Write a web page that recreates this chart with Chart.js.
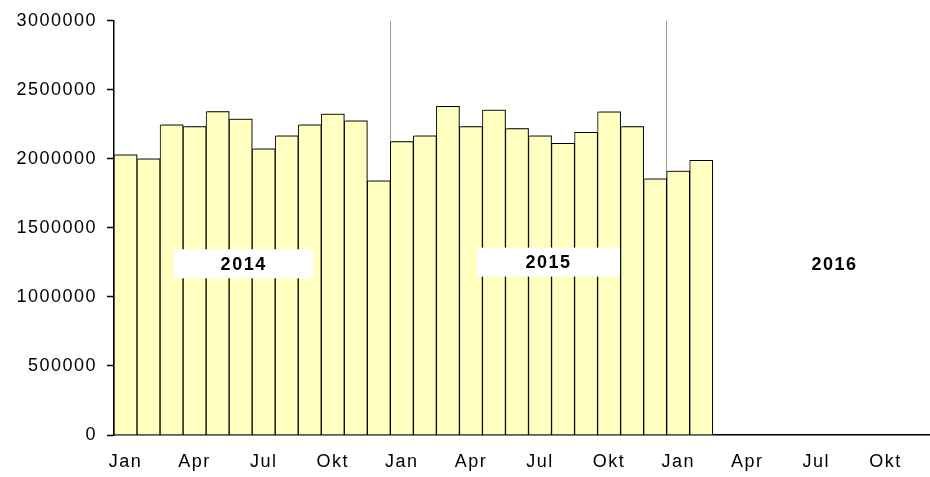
<!DOCTYPE html>
<html>
<head>
<meta charset="utf-8">
<script src="https://cdn.jsdelivr.net/npm/chart.js@4.4.1/dist/chart.umd.min.js"></script>
<style>
  html, body { margin: 0; padding: 0; background: #fff; overflow: hidden; }
  #wrap { width: 950px; height: 477px; }
</style>
</head>
<body>
<div id="wrap"><canvas id="chart"></canvas></div>
<script>
const monthNames = ['Jan', 'Feb', 'Mär', 'Apr', 'Mai', 'Jun', 'Jul', 'Aug', 'Sep', 'Okt', 'Nov', 'Dez'];
const years = ['2014', '2015', '2016'];
const shownMonths = ['Jan', 'Apr', 'Jul', 'Okt'];

const values2014 = [2030000, 2000000, 2246000, 2234000, 2342000, 2289000, 2072000, 2166000, 2246000, 2325000, 2275000, 1841000];
const values2015 = [2125000, 2166000, 2381000, 2234000, 2354000, 2219000, 2166000, 2113000, 2193000, 2340000, 2234000, 1856000];
const values2016 = [1911000, 1990000];

const yTicks = [0, 500000, 1000000, 1500000, 2000000, 2500000, 3000000];

// labels: one per month, three years
const labels = [];
years.forEach((y) => monthNames.forEach((m) => labels.push(m + ' ' + y)));

const values = labels.map((_, i) => {
  const all = values2014.concat(values2015, values2016);
  return i < all.length ? all[i] : null;
});

const FONT = 'Liberation Sans, Arial, sans-serif';

// wider glyph spacing, the original text is drawn quite wide
const spacingPlugin = {
  id: 'spacing',
  beforeUpdate(chart) { chart.ctx.letterSpacing = '1.5px'; },
  beforeDraw(chart) { chart.ctx.letterSpacing = '1.5px'; },
};

const barShadow = {
  id: 'barShadow',
  beforeDatasetsDraw(chart) {
    const ctx = chart.ctx;
    ctx.save();
    ctx.shadowColor = 'rgba(0,0,0,0.45)';
    ctx.shadowOffsetX = 2;
    ctx.shadowOffsetY = -1;
    ctx.shadowBlur = 0;
  },
  afterDatasetsDraw(chart) {
    chart.ctx.restore();
  },
};

// year captions in white boxes: [months from year start, value]
const yearBoxes = [
  { text: years[0], at: 5.63, value: 1240000, w: 140 },
  { text: years[1], at: 6.87, value: 1252000, w: 143 },
  { text: years[2], at: 7.29, value: 1240000, w: 0 },
];

const yearLabels = {
  id: 'yearLabels',
  afterDatasetsDraw(chart) {
    const ctx = chart.ctx;
    const x = chart.scales.x;
    const y = chart.scales.y;
    const step = x.getPixelForValue(1) - x.getPixelForValue(0);
    ctx.save();
    yearBoxes.forEach((b, i) => {
      const left = x.getPixelForValue(12 * i) - step / 2;
      const cx = left + b.at * step;
      const cy = y.getPixelForValue(b.value);
      if (b.w) {
        ctx.fillStyle = '#fff';
        ctx.fillRect(cx - b.w / 2, cy - 14.5, b.w, 29);
      }
      ctx.fillStyle = '#000';
      ctx.font = 'bold 18px ' + FONT;
      ctx.letterSpacing = '1.5px';
      ctx.textAlign = 'center';
      ctx.textBaseline = 'middle';
      ctx.fillText(b.text, cx, cy + 1);
    });
    ctx.restore();
  },
};

new Chart(document.getElementById('chart'), {
  type: 'bar',
  data: {
    labels: labels,
    datasets: [
      {
        data: values,
        backgroundColor: '#ffffc0',
        borderColor: '#000',
        borderWidth: 1,
        borderSkipped: 'bottom',
        categoryPercentage: 1,
        barPercentage: 1,
      },
    ],
  },
  options: {
    responsive: true,
    maintainAspectRatio: false,
    animation: false,
    layout: { padding: { top: 20, right: 7, left: 0, bottom: 0 } },
    plugins: {
      legend: { display: false },
      tooltip: { enabled: false },
    },
    scales: {
      x: {
        offset: true,
        afterFit: (s) => { s.height = 42; },
        grid: {
          offset: true,
          drawTicks: false,
          color: (c) => (c.index === 12 || c.index === 24 ? '#9a9a9a' : 'rgba(0,0,0,0)'),
          lineWidth: 1,
        },
        border: { display: true, color: '#000', width: 1.5 },
        ticks: {
          autoSkip: false,
          maxRotation: 0,
          padding: 16,
          color: '#000',
          font: { family: FONT, size: 18 },
          callback: function (v, i) {
            const m = monthNames[i % 12];
            return shownMonths.includes(m) ? m : '';
          },
        },
      },
      y: {
        min: 0,
        max: 3000000,
        afterFit: (s) => { s.width = 114; },
        afterBuildTicks: (s) => { s.ticks = yTicks.map((v) => ({ value: v })); },
        grid: {
          drawOnChartArea: false,
          tickLength: 7,
          tickColor: '#000',
          tickWidth: 1.5,
        },
        border: { display: true, color: '#000', width: 1.5 },
        ticks: {
          padding: 10,
          color: '#000',
          font: { family: FONT, size: 18 },
          callback: (v) => String(v),
        },
      },
    },
  },
  plugins: [spacingPlugin, barShadow, yearLabels],
});
</script>
</body>
</html>
